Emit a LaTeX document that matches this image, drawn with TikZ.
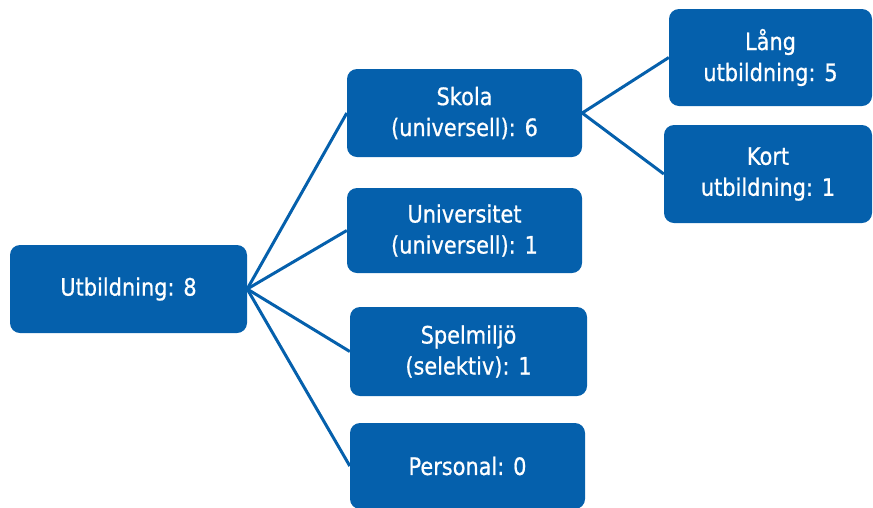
\documentclass[tikz,border=0pt]{standalone}
\usepackage{fontspec}
\setmainfont[FakeStretch=0.87,FakeBold=0.7]{DejaVu Sans}
\usepackage{xcolor}
\usepackage{tikz}
\usetikzlibrary{positioning,calc}

\definecolor{boxblue}{HTML}{0560AC}

\begin{document}
\begin{tikzpicture}[x=1pt,y=-1pt,
    box/.style={draw=none, fill=boxblue, rounded corners=10pt, text=white, align=center,
        inner sep=0pt, font=\fontsize{24}{31}\selectfont},
    link/.style={draw=boxblue, line width=3pt}]
    \useasboundingbox (0,0) rectangle (873,507);

    % root and first level
    \node[box, minimum width=237pt, minimum height=88pt] (utb) at (128.5,289) {Utbildning: 8};
    \node[box, minimum width=235pt, minimum height=88pt] (skola) at (464.5,113) {Skola\\(universell): 6};
    \node[box, minimum width=235pt, minimum height=85pt] (univ) at (464.5,230.5) {Universitet\\(universell): 1};
    \node[box, minimum width=237pt, minimum height=89pt] (spel) at (468.5,351.5) {Spelmiljö\\(selektiv): 1};
    \node[box, minimum width=235pt, minimum height=86pt] (pers) at (467.5,466) {Personal: 0};

    % second level
    \node[box, minimum width=203pt, minimum height=97pt] (lang) at (770.5,57.5) {Lång\\utbildning: 5};
    \node[box, minimum width=208pt, minimum height=98pt] (kort) at (768,174) {Kort\\utbildning: 1};

    \draw[link] (utb.east) -- (skola.west);
    \draw[link] (utb.east) -- (univ.west);
    \draw[link] (utb.east) -- (spel.west);
    \draw[link] (utb.east) -- (pers.west);
    \draw[link] (skola.east) -- (lang.west);
    \draw[link] (skola.east) -- (kort.west);
\end{tikzpicture}
\end{document}
